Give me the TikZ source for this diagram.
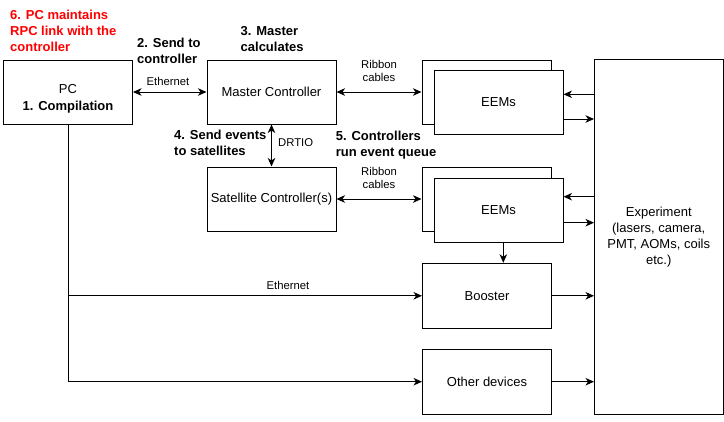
\documentclass[tikz,border=0pt]{standalone}
\usepackage{fontspec}
\setmainfont{Liberation Sans}
\usetikzlibrary{arrows.meta,calc}
\begin{document}
\begin{tikzpicture}[x=1pt,y=-1pt,
  box/.style={draw, line width=1pt, minimum width=129pt, minimum height=64pt, inner sep=0pt,
    font=\fontsize{13}{16}\selectfont, align=center, fill=white},
  tip/.tip={Stealth[length=8.5pt,width=7.5pt,inset=2.5pt]},
  arr/.style={line width=1pt, -tip},
  darr/.style={line width=1pt, tip-tip},
  lbl/.style={inner sep=0pt, font=\fontsize{11.3}{13.7}\selectfont, align=center},
  note/.style={inner sep=0pt, anchor=west, align=left, font=\fontsize{13}{16}\selectfont\bfseries},
  redcol/.style={text=red}
]
\useasboundingbox (0,0) rectangle (724,421);

% boxes
\node[box] (pc) at (68,92) {};
\node[inner sep=0pt, align=center, font=\fontsize{13}{16.6}\selectfont] (pctext) at (68,99) {PC\\\textbf{1. Compilation}};
\node[box] (master) at (271.5,92) {Master Controller};
\node[box] (sat) at (271.5,199) {Satellite Controller(s)};
\node[box] (eemAb) at (486.5,92) {};
\node[box] (eemAf) at (498.5,102.3) {EEMs};
\node[box] (eemBb) at (486.5,199) {};
\node[box] (eemBf) at (498.5,210.3) {EEMs};
\node[box, minimum height=65pt] (booster) at (487,295.8) {Booster};
\node[box, minimum height=65pt] (other) at (487,381.7) {Other devices};
\node[box, minimum width=128.5pt, minimum height=354.5pt] (exp) at (658.75,236.75)
  {Experiment\\(lasers, camera,\\PMT, AOMs, coils\\etc.)};

% helper coordinates
\coordinate (ya) at (0,94.3);
\coordinate (yb) at (0,119);
\coordinate (yc) at (0,196.7);
\coordinate (yd) at (0,222.7);
\coordinate (xv) at (503.3,0);

% connectors
\draw[darr] (pc.east) -- (master.west);
\draw[darr] (master.south) -- (sat.north);
\draw[darr] (master.east) -- (eemAb.west);
\draw[darr] (sat.east) -- (eemBb.west);
\draw[arr] (exp.west |- ya) -- (eemAf.east |- ya);
\draw[arr] (eemAf.east |- yb) -- (exp.west |- yb);
\draw[arr] (exp.west |- yc) -- (eemBf.east |- yc);
\draw[arr] (eemBf.east |- yd) -- (exp.west |- yd);
\draw[arr] (xv |- eemBf.south) -- (xv |- booster.north);
\draw[arr] (booster.east) -- (exp.west |- booster.east);
\draw[arr] (other.east) -- (exp.west |- other.east);
\draw[arr] (pc.south) |- (other.west);
\draw[arr] (pc.south |- booster.west) -- (booster.west);

% labels
\node[lbl] (eth1) at (168,81) {Ethernet};
\node[lbl] (eth2) at (288,285) {Ethernet};
\node[lbl] (rib1) at (379,71) {Ribbon\\cables};
\node[lbl] (rib2) at (379,178) {Ribbon\\cables};
\node[lbl, anchor=west] (drtio) at (278,143) {DRTIO};

\node[note, redcol] (n6) at (10,31) {6. PC maintains\\RPC link with the\\controller};
\node[note] (n2) at (137,51.3) {2. Send to\\controller};
\node[note] (n3) at (240.5,39.5) {3. Master\\calculates};
\node[note] (n4) at (174,143.3) {4. Send events\\to satellites};
\node[note, text depth=0pt] (n5) at (335.7,143.3) {5. Controllers\\run event queue};
\end{tikzpicture}
\end{document}
